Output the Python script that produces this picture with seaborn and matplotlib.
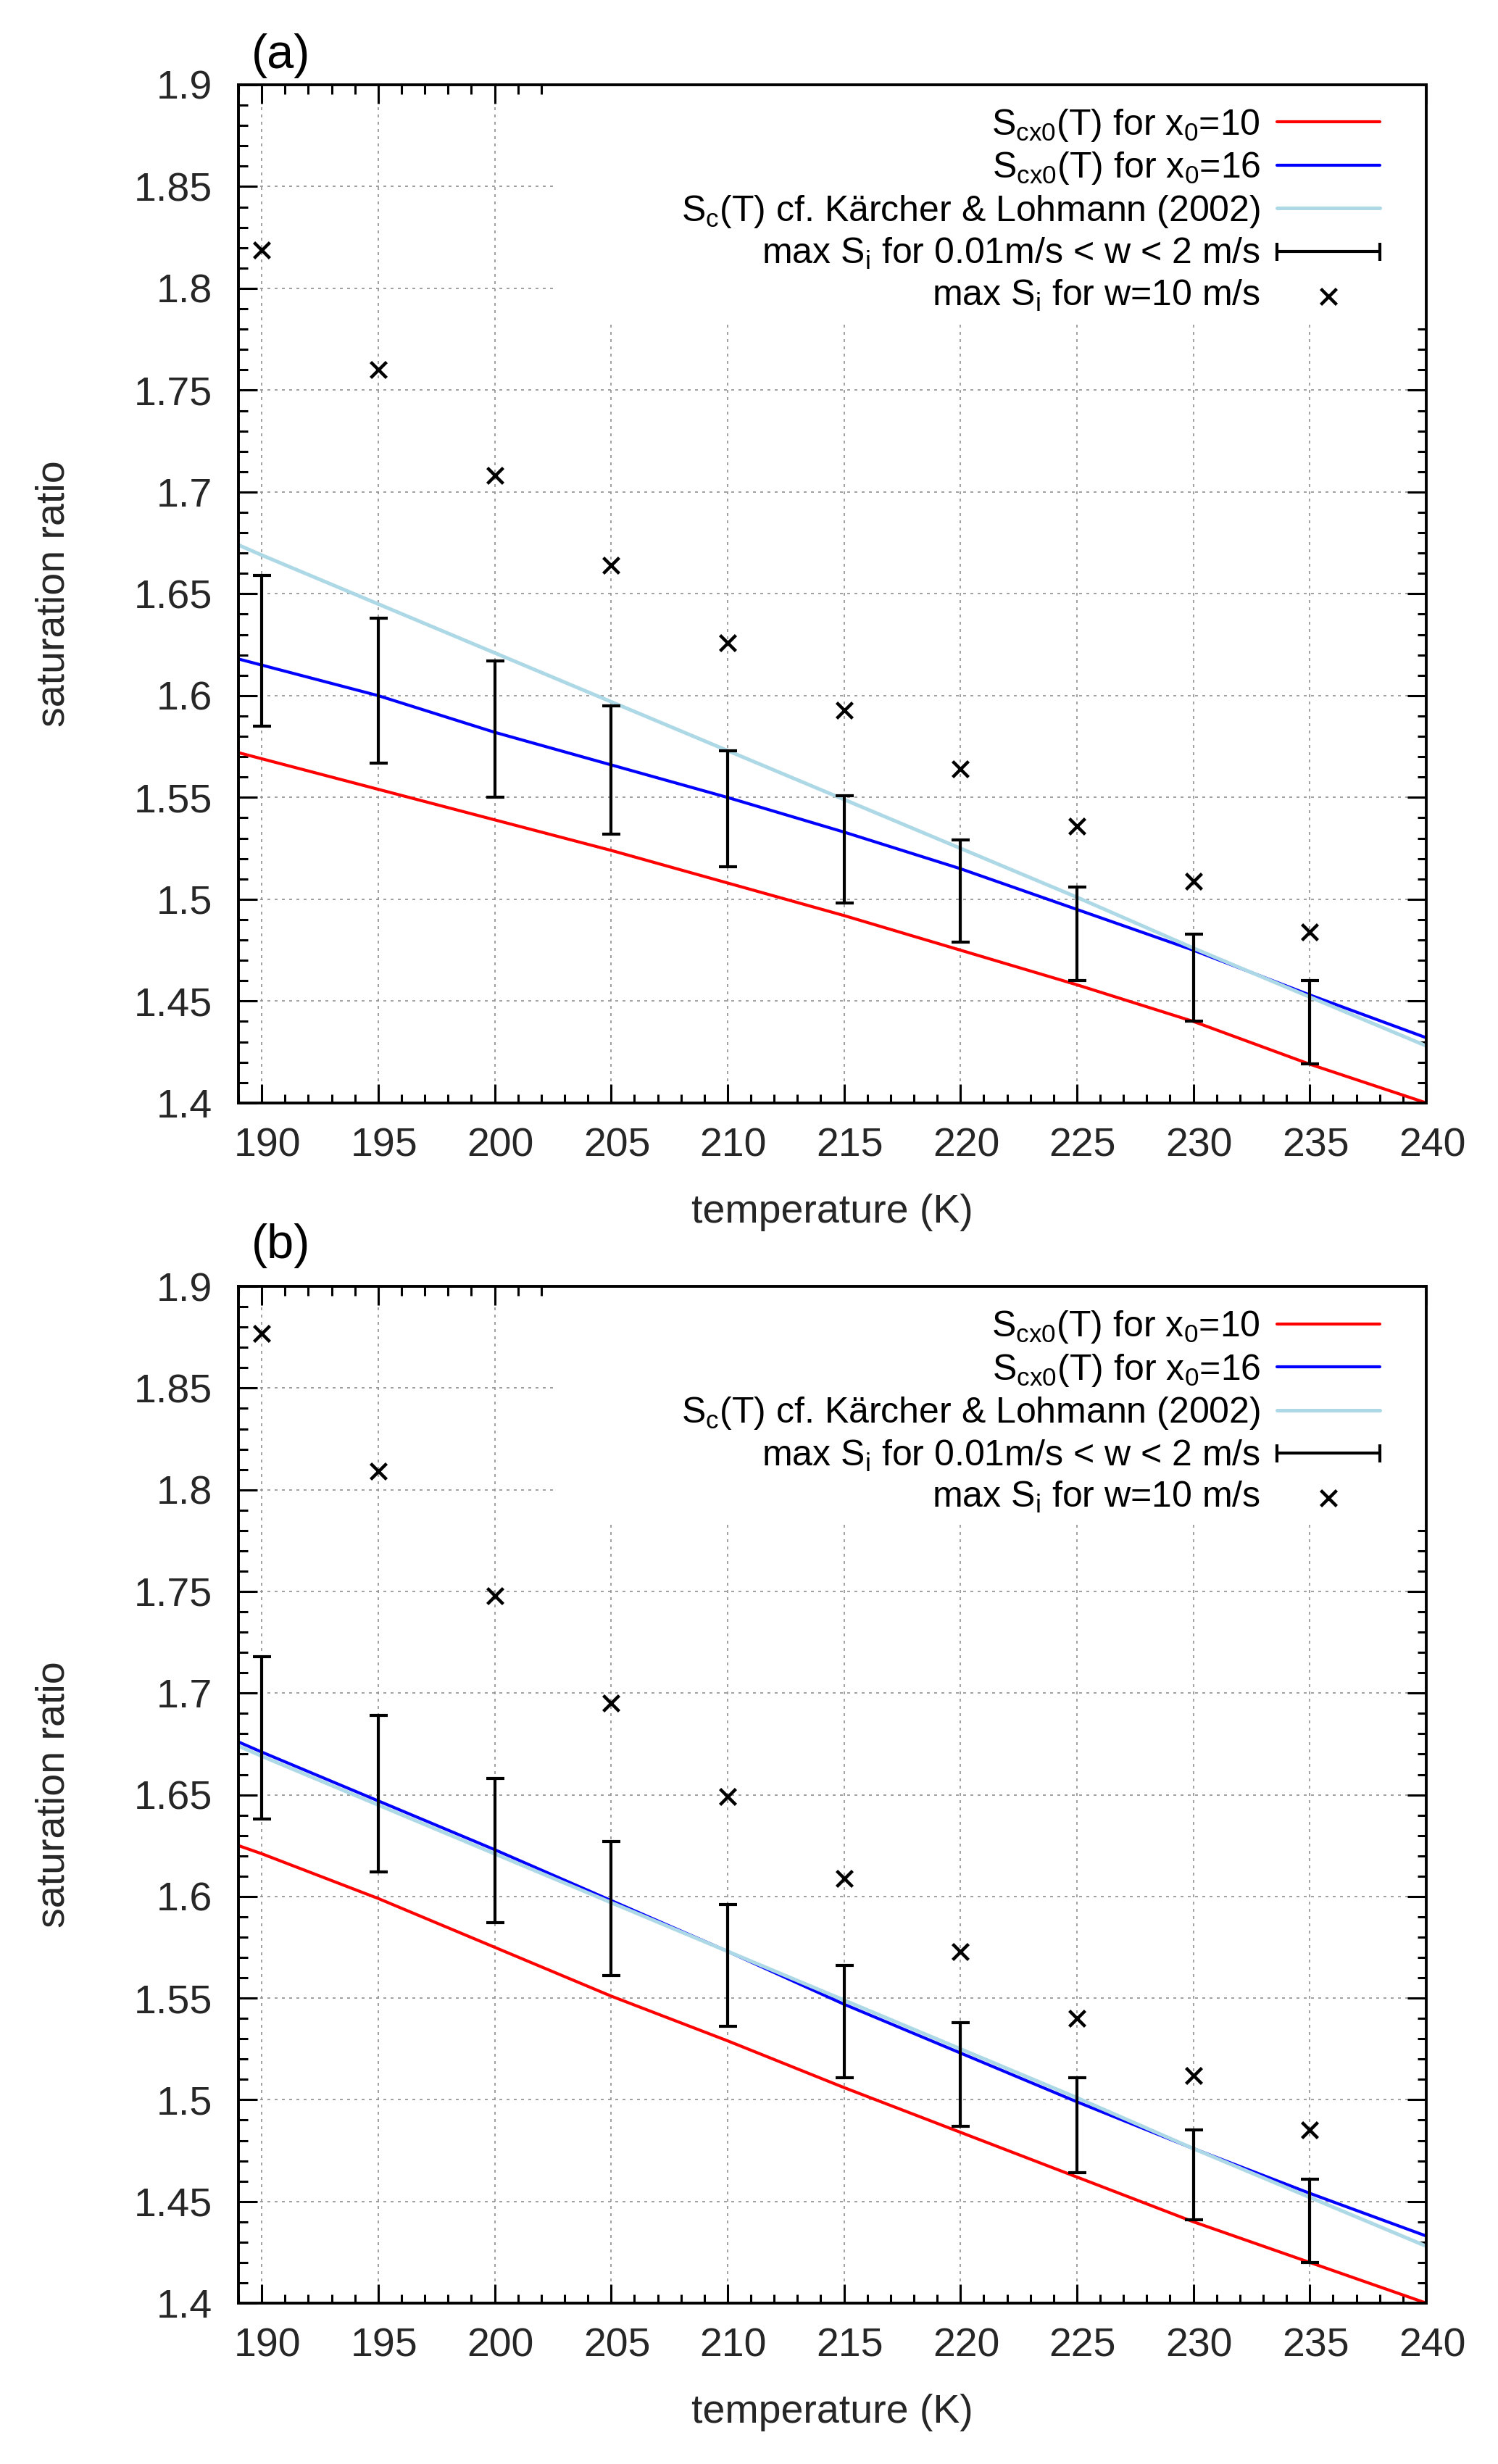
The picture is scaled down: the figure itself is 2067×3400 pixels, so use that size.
import numpy as np
import matplotlib
matplotlib.use('Agg')
import matplotlib.pyplot as plt
import matplotlib.transforms as mtransforms
from matplotlib.lines import Line2D
from matplotlib.patches import Rectangle
from matplotlib.legend_handler import HandlerLine2D
import seaborn as sns

# ------------------------------------------------------------------
# Data
# ------------------------------------------------------------------
T_line = [189, 190, 195, 200, 205, 210, 215, 220, 225, 230, 235, 240]
T_pts = [190, 195, 200, 205, 210, 215, 220, 225, 230, 235]

# Kaercher & Lohmann (2002) curve, same in both panels
sc_kl = [1.674, 1.669, 1.645, 1.621, 1.597, 1.573, 1.549, 1.525, 1.501, 1.476, 1.452, 1.428]

# panel (a)
red_a = [1.572, 1.569, 1.554, 1.539, 1.524, 1.508, 1.492, 1.475, 1.458, 1.440, 1.419, 1.400]
blue_a = [1.618, 1.615, 1.600, 1.582, 1.566, 1.550, 1.533, 1.515, 1.495, 1.475, 1.453, 1.432]
low_a = [1.585, 1.567, 1.550, 1.532, 1.516, 1.498, 1.479, 1.460, 1.440, 1.419]
high_a = [1.659, 1.638, 1.617, 1.595, 1.573, 1.551, 1.529, 1.506, 1.483, 1.460]
cross_a = [1.819, 1.760, 1.708, 1.664, 1.626, 1.593, 1.564, 1.536, 1.509, 1.484]

# panel (b)
red_b = [1.625, 1.621, 1.599, 1.575, 1.551, 1.529, 1.506, 1.484, 1.462, 1.440, 1.420, 1.400]
blue_b = [1.676, 1.671, 1.647, 1.623, 1.598, 1.573, 1.547, 1.523, 1.499, 1.476, 1.454, 1.433]
low_b = [1.638, 1.612, 1.587, 1.561, 1.536, 1.511, 1.487, 1.464, 1.441, 1.420]
high_b = [1.718, 1.689, 1.658, 1.627, 1.596, 1.566, 1.538, 1.511, 1.485, 1.461]
cross_b = [1.877, 1.809, 1.748, 1.695, 1.649, 1.609, 1.573, 1.540, 1.512, 1.485]

x_ticks = [190, 195, 200, 205, 210, 215, 220, 225, 230, 235, 240]
x_tick_labels = ['190', '195', '200', '205', '210', '215', '220', '225', '230', '235', '240']
y_ticks = [1.4, 1.45, 1.5, 1.55, 1.6, 1.65, 1.7, 1.75, 1.8, 1.85, 1.9]
y_tick_labels = ['1.4', '1.45', '1.5', '1.55', '1.6', '1.65', '1.7', '1.75', '1.8', '1.85', '1.9']

labels = [r'S$_{\mathrm{cx0}}$(T) for x$_{\mathrm{0}}$=10',
          r'S$_{\mathrm{cx0}}$(T) for x$_{\mathrm{0}}$=16',
          r'S$_{\mathrm{c}}$(T) cf. Kärcher & Lohmann (2002)',
          r'max S$_{\mathrm{i}}$ for 0.01m/s < w < 2 m/s',
          r'max S$_{\mathrm{i}}$ for w=10 m/s']

# ------------------------------------------------------------------
sns.set_style('ticks')
plt.rcParams['font.family'] = ['Liberation Sans', 'DejaVu Sans']
plt.rcParams['mathtext.fontset'] = 'custom'
plt.rcParams['mathtext.rm'] = 'Liberation Sans'
plt.rcParams['mathtext.it'] = 'Liberation Sans:italic'
plt.rcParams['text.color'] = 'black'

fig = plt.figure(figsize=(10.335, 17.0), dpi=200)
ax_a = fig.add_axes([0.1592, 0.5524, 0.7929, 0.4132])
ax_b = fig.add_axes([0.1592, 0.0653, 0.7929, 0.4126])


def draw_panel(ax, red, blue, low, high, cross, tag, tag_y):
    ax.set_axisbelow(True)
    ax.grid(True, which='major', color='#909090', linewidth=0.6,
            linestyle=(0, (2.4, 3.6)))
    # white key area hides the grid, like gnuplot's opaque key
    ax.add_patch(Rectangle((0.2648, 0.768), 0.7352, 0.232, transform=ax.transAxes,
                           facecolor='white', edgecolor='none', zorder=0.8))

    sns.lineplot(x=T_line, y=red, color='#ff0000', linewidth=1.5, ax=ax,
                 label=labels[0], errorbar=None, zorder=2)
    sns.lineplot(x=T_line, y=blue, color='#0000ff', linewidth=1.5, ax=ax,
                 label=labels[1], errorbar=None, zorder=2.1)
    sns.lineplot(x=T_line, y=sc_kl, color='#add8e6', linewidth=1.8, ax=ax,
                 label=labels[2], errorbar=None, zorder=2.2)

    lo = np.array(low)
    hi = np.array(high)
    mid = (lo + hi) / 2
    ax.errorbar(T_pts, mid, yerr=[mid - lo, hi - mid], fmt='none', ecolor='black',
                elinewidth=1.5, capsize=4.5, capthick=1.5, zorder=3)
    sns.scatterplot(x=T_pts, y=cross, marker='x', s=62, color='black', linewidth=1.6,
                    ax=ax, label=labels[4], zorder=4)

    ax.set_xlim(189, 240)
    ax.set_ylim(1.4, 1.9)
    ax.set_xticks(x_ticks)
    ax.set_xticklabels(x_tick_labels)
    ax.set_yticks(y_ticks)
    ax.set_yticklabels(y_tick_labels)
    ax.xaxis.set_minor_locator(matplotlib.ticker.MultipleLocator(1))
    ax.yaxis.set_minor_locator(matplotlib.ticker.MultipleLocator(0.01))
    ax.tick_params(which='both', direction='in', top=True, right=True,
                   color='black', width=1.1)
    ax.tick_params(which='major', length=9.4, labelsize=20)
    ax.tick_params(axis='x', which='major', pad=12.2)
    ax.tick_params(axis='y', which='major', pad=13)
    ax.tick_params(which='minor', length=4.5)
    for sp in ax.spines.values():
        sp.set_visible(True)
        sp.set_linewidth(1.4)
        sp.set_color('black')

    # gnuplot puts the x labels a little right of the tick
    offset = mtransforms.ScaledTranslation(0.04, 0, fig.dpi_scale_trans)
    for lab in ax.get_xticklabels():
        lab.set_transform(lab.get_transform() + offset)

    ax.set_xlabel('temperature (K)', fontsize=20)
    ax.set_ylabel('saturation ratio', fontsize=20)
    ax.xaxis.set_label_coords(0.5, -0.089)
    ax.yaxis.set_label_coords(-0.1397, 0.5)

    ax.text(0.011, tag_y, tag, transform=ax.transAxes, fontsize=24,
            ha='left', va='bottom')

    handles, labs = ax.get_legend_handles_labels()
    bar_proxy = Line2D([], [], color='black', linewidth=1.5, marker='|',
                       markersize=9, markeredgewidth=1.5)
    handles = handles[:3] + [bar_proxy] + handles[3:]
    labs = labs[:3] + [labels[3]] + labs[3:]
    ax.legend(handles, labs, loc='upper right', bbox_to_anchor=(0.961, 0.978),
              frameon=False, fontsize=18, markerfirst=False, handlelength=2.85,
              handletextpad=0.45, labelspacing=0.19, borderpad=0, borderaxespad=0,
              handler_map={bar_proxy: HandlerLine2D(numpoints=2, marker_pad=0)})


draw_panel(ax_a, red_a, blue_a, low_a, high_a, cross_a, '(a)', 1.0064)
draw_panel(ax_b, red_b, blue_b, low_b, high_b, cross_b, '(b)', 1.0178)

fig.savefig('out.png', dpi=200)
